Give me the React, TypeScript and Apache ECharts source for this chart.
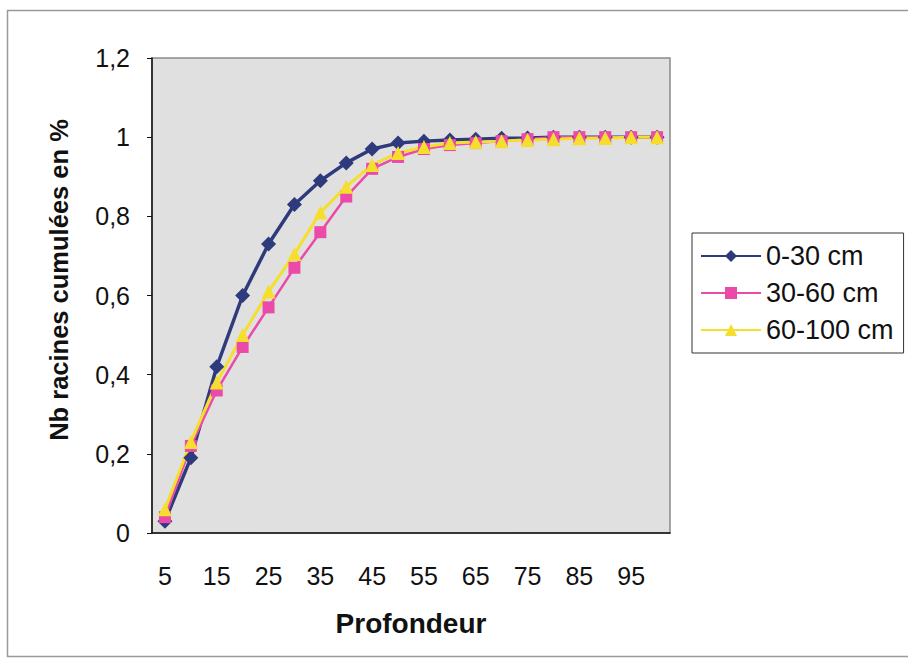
import React, { useEffect, useRef } from "react";
import * as echarts from "echarts";

const categories = ["5","10","15","20","25","30","35","40","45","50","55","60","65","70","75","80","85","90","95","100"];
const seriesNames = ["0-30 cm", "30-60 cm", "60-100 cm"];
const s0_30 = [0.03, 0.19, 0.42, 0.60, 0.73, 0.83, 0.89, 0.935, 0.97, 0.985, 0.99, 0.993, 0.995, 0.997, 0.998, 1, 1, 1, 1, 1];
const s30_60 = [0.04, 0.22, 0.36, 0.47, 0.57, 0.67, 0.76, 0.85, 0.92, 0.95, 0.97, 0.98, 0.985, 0.99, 0.995, 1, 1, 1, 1, 1];
const s60_100 = [0.06, 0.23, 0.38, 0.50, 0.61, 0.705, 0.81, 0.875, 0.93, 0.96, 0.975, 0.985, 0.988, 0.99, 0.993, 0.995, 0.997, 0.998, 1, 1];
const yTicks = { min: 0, max: 1.2, interval: 0.2 };
const yTitle = "Nb racines cumulées en %";
const xTitle = "Profondeur";

const FONT = "'Liberation Sans', Arial, sans-serif";

export default function App() {
  const ref = useRef<HTMLDivElement>(null);
  useEffect(() => {
    const chart = echarts.init(ref.current!, null, { renderer: "svg" });
    chart.setOption({
      animation: false,
      backgroundColor: "#ffffff",
      textStyle: { fontFamily: FONT },
      graphic: [
        {
          type: "rect",
          shape: { x: 7.5, y: 10.5, width: 1000, height: 646 },
          style: { fill: "none", stroke: "#9a9a9a", lineWidth: 1.5 },
          silent: true,
          z: -1,
        },
        {
          type: "text",
          x: 59,
          y: 280,
          rotation: Math.PI / 2,
          style: {
            text: yTitle,
            font: `bold 25.5px ${FONT}`,
            fill: "#111",
            align: "center",
            verticalAlign: "middle",
          },
        },
      ],
      grid: {
        left: 152,
        top: 58,
        right: 238,
        bottom: 133,
        show: true,
        backgroundColor: "#e0e0e0",
        borderColor: "#8a8a8a",
        borderWidth: 1.5,
      },
      legend: {
        data: seriesNames,
        orient: "vertical",
        left: 692,
        top: 233,
        width: 213,
        padding: [9, 10, 9, 8],
        itemWidth: 60,
        itemHeight: 15,
        itemGap: 9,
        borderColor: "#333",
        borderWidth: 1,
        backgroundColor: "#ffffff",
        textStyle: { fontSize: 27, color: "#111", fontFamily: FONT, lineHeight: 28 },
      },
      xAxis: {
        type: "category",
        data: categories,
        boundaryGap: true,
        name: xTitle,
        nameLocation: "middle",
        nameGap: 76,
        nameTextStyle: { fontSize: 28, fontWeight: "bold", color: "#111", fontFamily: FONT },
        axisLine: { lineStyle: { color: "#111", width: 1.5 } },
        axisTick: { interval: 0, length: 7, lineStyle: { color: "#111" } },
        axisLabel: { interval: 1, fontSize: 25, color: "#111", margin: 30, fontFamily: FONT },
        splitLine: { show: false },
      },
      yAxis: {
        type: "value",
        min: yTicks.min,
        max: yTicks.max,
        interval: yTicks.interval,
        axisLine: { show: true, lineStyle: { color: "#111", width: 1.5 } },
        axisTick: { show: true, length: 5, lineStyle: { color: "#111" } },
        axisLabel: {
          fontSize: 25,
          color: "#111",
          margin: 22,
          fontFamily: FONT,
          formatter: (v: number) => String(Math.round(v * 10) / 10).replace(".", ","),
        },
        splitLine: { show: false },
      },
      series: [
        {
          name: seriesNames[0],
          type: "line",
          data: s0_30,
          symbol: "diamond",
          symbolSize: 15,
          color: "#2f3a7c",
          lineStyle: { width: 3.5, color: "#2f3a7c" },
          itemStyle: { color: "#2f3a7c" },
        },
        {
          name: seriesNames[1],
          type: "line",
          data: s30_60,
          symbol: "rect",
          symbolSize: 12,
          color: "#ec4aa8",
          lineStyle: { width: 2.5, color: "#ec4aa8" },
          itemStyle: { color: "#ec4aa8" },
        },
        {
          name: seriesNames[2],
          type: "line",
          data: s60_100,
          symbol: "triangle",
          symbolSize: 14,
          color: "#f6de2e",
          lineStyle: { width: 3, color: "#f6de2e" },
          itemStyle: { color: "#f6de2e" },
        },
      ],
    });
    return () => chart.dispose();
  }, []);
  return (
    <div
      ref={ref}
      style={{ position: "fixed", left: 0, top: 0, width: 908, height: 666 }}
    />
  );
}
